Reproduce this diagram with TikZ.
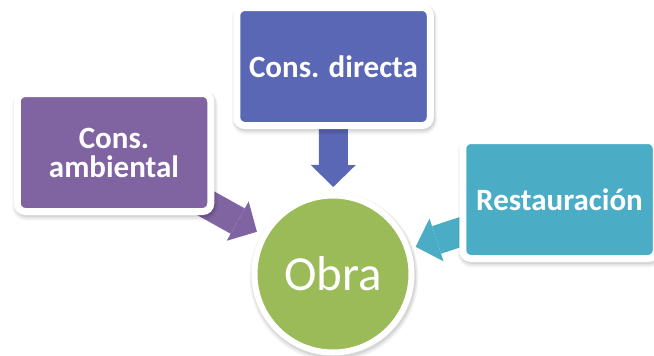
\documentclass[tikz,border=0pt]{standalone}
\usepackage{fontspec}
\setmainfont{Carlito}
\usetikzlibrary{arrows.meta,shadows}
\pgfdeclarelayer{background}
\pgfsetlayers{background,main}
\definecolor{ambcol}{HTML}{8064A2}
\definecolor{dircol}{HTML}{5A67B5}
\definecolor{rescol}{HTML}{4BACC6}
\definecolor{obracol}{HTML}{9BBB59}
\begin{document}
\begin{tikzpicture}[x=1pt,y=-1pt,
  % soft shadow built from a few stacked translucent outlines
  softshade/.style={
    drop shadow={fill=black, draw=black, line width=7pt, opacity=0.07,
      shadow xshift=1pt, shadow yshift=-2pt},
    drop shadow={fill=black, draw=black, line width=9.5pt, opacity=0.06,
      shadow xshift=1pt, shadow yshift=-2.5pt},
    drop shadow={fill=black, draw=black, line width=12pt, opacity=0.04,
      shadow xshift=1pt, shadow yshift=-3pt}},
  card/.style={draw=white, line width=7pt, rounded corners=8pt,
    minimum width=193.5pt, minimum height=118pt, inner sep=0pt, outer sep=0pt,
    text=white, align=center,
    font=\fontsize{31}{29}\selectfont\bfseries, softshade},
  hub/.style={circle, draw=white, line width=6pt, fill=obracol,
    minimum size=157pt, inner sep=0pt, outer sep=0pt, text=white,
    font=\fontsize{49}{50}\selectfont, softshade},
  feed/.style={line width=29pt,
    -{Triangle[length=22pt, width=45pt, line width=0pt]},
    shorten <=-30pt, shorten >=8.5pt}]
  \useasboundingbox (0,0) rectangle (654,356);

  % boxes and centre
  \node[card, fill=ambcol] (amb) at (114,152.5) {Cons.\\ambiental};
  \node[card, fill=dircol] (dir) at (333.5,66.5) {Cons. directa};
  \node[card, fill=rescol] (res) at (559.5,199.5) {Restauración};
  \node[hub] (obra) at (333,274) {Obra};

  % arrows feeding into the centre, tucked under the boxes
  \begin{pgfonlayer}{background}
    \draw[feed, ambcol] (amb) -- (obra);
    \draw[feed, dircol] (dir) -- (obra);
    \draw[feed, rescol] (res) -- (obra);
  \end{pgfonlayer}
\end{tikzpicture}
\end{document}
